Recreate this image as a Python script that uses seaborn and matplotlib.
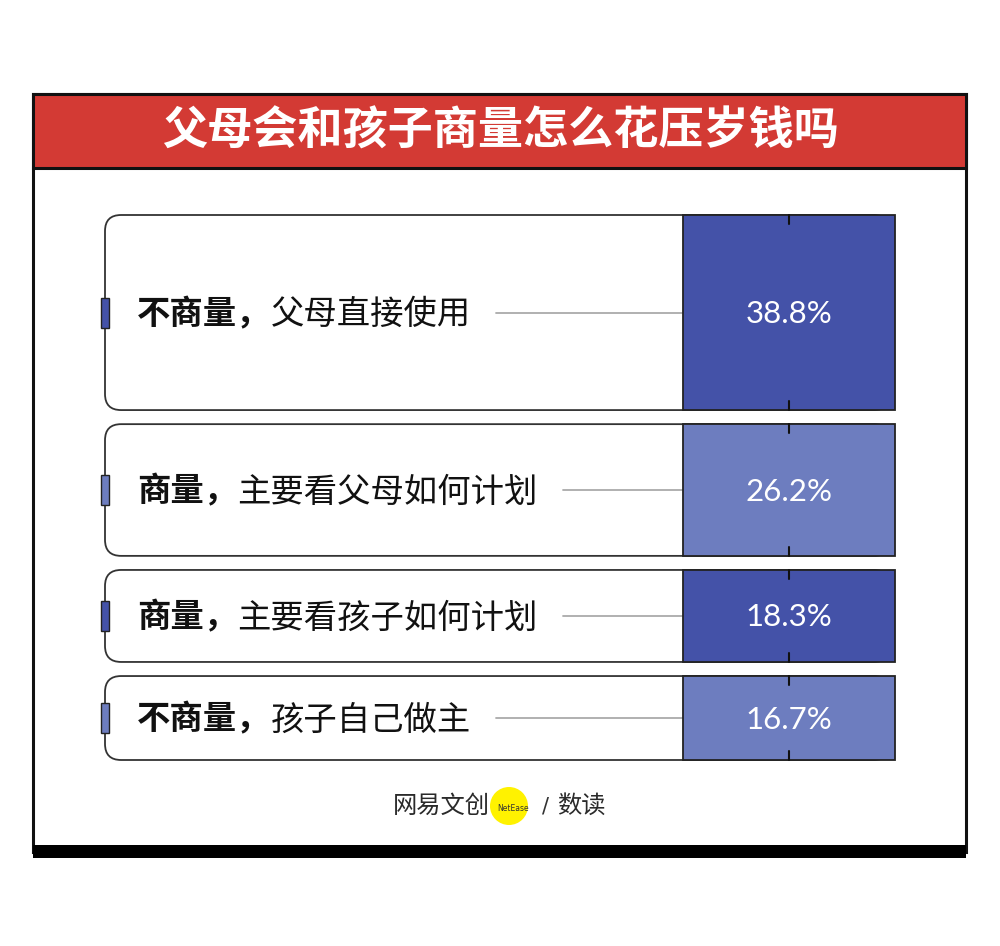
import matplotlib
matplotlib.use("Agg")
import matplotlib.pyplot as plt
from matplotlib.patches import FancyBboxPatch, Rectangle, Circle
import seaborn as sns
import numpy as np

# ---------------- data ----------------
title = "父母会和孩子商量怎么花压岁钱吗"
labels_bold = ["不商量，", "商量，", "商量，", "不商量，"]
labels_rest = ["父母直接使用", "主要看父母如何计划", "主要看孩子如何计划", "孩子自己做主"]
values = [38.8, 26.2, 18.3, 16.7]
colors = ["#4452a8", "#6d7dbf", "#4452a8", "#6d7dbf"]
source_left = "网易文创"
source_badge = "NetEase"
source_right = "数读"

# ---------------- style ----------------
sns.set_theme(style="white")
plt.rcParams["font.family"] = ["Noto Sans CJK SC", "DejaVu Sans"]

W, H = 1000, 946
fig = plt.figure(figsize=(W / 100, H / 100), dpi=100)
fig.patch.set_facecolor("white")

# overlay axes in pixel units for frame / title / footer
ax0 = fig.add_axes([0, 0, 1, 1], zorder=0)
ax0.set_xlim(0, W)
ax0.set_ylim(H, 0)
ax0.axis("off")

# frame
ax0.add_patch(Rectangle((33, 94), 933, 758, facecolor="white", edgecolor="#111", lw=2.2))
ax0.add_patch(Rectangle((33, 94), 933, 74, facecolor="#d33a34", edgecolor="#111", lw=2.2))
ax0.add_patch(Rectangle((33, 845), 933, 13, facecolor="#000", edgecolor="#000", lw=0))
ax0.text(500, 132, title, ha="center", va="center", color="white",
         fontsize=32.5, fontweight="bold", family=["Noto Sans CJK SC"])

# footer logo
ax0.add_patch(Circle((509, 806), 19, facecolor="#fff200", edgecolor="none", zorder=1))
ax0.text(393, 806, source_left, ha="left", va="center", fontsize=17.5, color="#2a2a2a",
         zorder=2)
ax0.text(513, 808, source_badge, ha="center", va="center", fontsize=5.5, color="#333",
         family=["DejaVu Sans"], zorder=2)
ax0.text(546, 806, "/", ha="center", va="center", fontsize=15, color="#333",
         family=["DejaVu Sans"])
ax0.text(557, 806, source_right, ha="left", va="center", fontsize=17.5, color="#2a2a2a")

# ---------------- rows axes ----------------
px_left, px_right, px_top, px_bot = 105, 895, 215, 760
gap = 2.8
total = sum(values) + gap * (len(values) - 1)
scale = (px_bot - px_top) / total           # pixels per unit
xmax = (px_right - px_left) / scale
ax = fig.add_axes([px_left / W, 1 - px_bot / H, (px_right - px_left) / W, (px_bot - px_top) / H],
                  zorder=1)
ax.patch.set_alpha(0)
ax.set_xlim(0, xmax)
ax.set_ylim(total, 0)
ax.axis("off")

vals = np.array(values)
tops = np.concatenate([[0], np.cumsum(vals + gap)[:-1]])
centers = tops + vals / 2
bar_left = (683 - px_left) / scale
bar_w = xmax - bar_left
tick_x = bar_left + bar_w / 2

# rounded outline boxes
for t, v in zip(tops, vals):
    ax.add_patch(FancyBboxPatch((0, t), xmax - 1, v,
                                boxstyle="round,pad=0,rounding_size=3.2",
                                facecolor="white", edgecolor="#333", lw=1.3, zorder=1,
                                clip_on=False))

# coloured value bars
bars = ax.barh(centers, bar_w, left=bar_left, height=vals, color=colors,
               edgecolor="#222", linewidth=1.3, zorder=3)
for b in bars:
    b.set_clip_on(False)

# ticks, tabs, values
tab_w = 8 / scale
tab_h = 30 / scale
tick_len = 9 / scale
for c, t, v, col in zip(centers, tops, vals, colors):
    ax.plot([tick_x, tick_x], [t, t + tick_len], color="#111", lw=1.5, zorder=4, clip_on=False)
    ax.plot([tick_x, tick_x], [t + v - tick_len, t + v], color="#111", lw=1.5, zorder=4,
            clip_on=False)
    ax.add_patch(Rectangle((-tab_w / 2, c - tab_h / 2), tab_w, tab_h, facecolor=col,
                           edgecolor="#222", lw=1.0, zorder=4, clip_on=False))
    ax.text(tick_x, c + 0.3, f"{v:.1f}%", ha="center", va="center", color="white",
            fontsize=22.5, fontweight="normal", family=["Lato", "DejaVu Sans"], zorder=5)

# labels with bold lead + regular rest, then connector line
fig.canvas.draw()
renderer = fig.canvas.get_renderer()
inv = ax.transData.inverted()
text_x = (137 - px_left) / scale
for c, lb, lr in zip(centers, labels_bold, labels_rest):
    tb = ax.text(text_x, c + 0.4, lb, ha="left", va="center", fontsize=24, fontweight="bold",
                 color="#111", zorder=5)
    bb = tb.get_window_extent(renderer)
    x_end = inv.transform((bb.x1, bb.y0))[0]
    tr = ax.text(x_end, c + 0.4, lr, ha="left", va="center", fontsize=24, color="#111", zorder=5)
    bb2 = tr.get_window_extent(renderer)
    x_end2 = inv.transform((bb2.x1, bb2.y0))[0]
    ax.plot([x_end2 + 25 / scale, bar_left], [c, c], color="#aaaaaa", lw=1.3, zorder=2)

fig.savefig("out.png", dpi=100, facecolor="white")
